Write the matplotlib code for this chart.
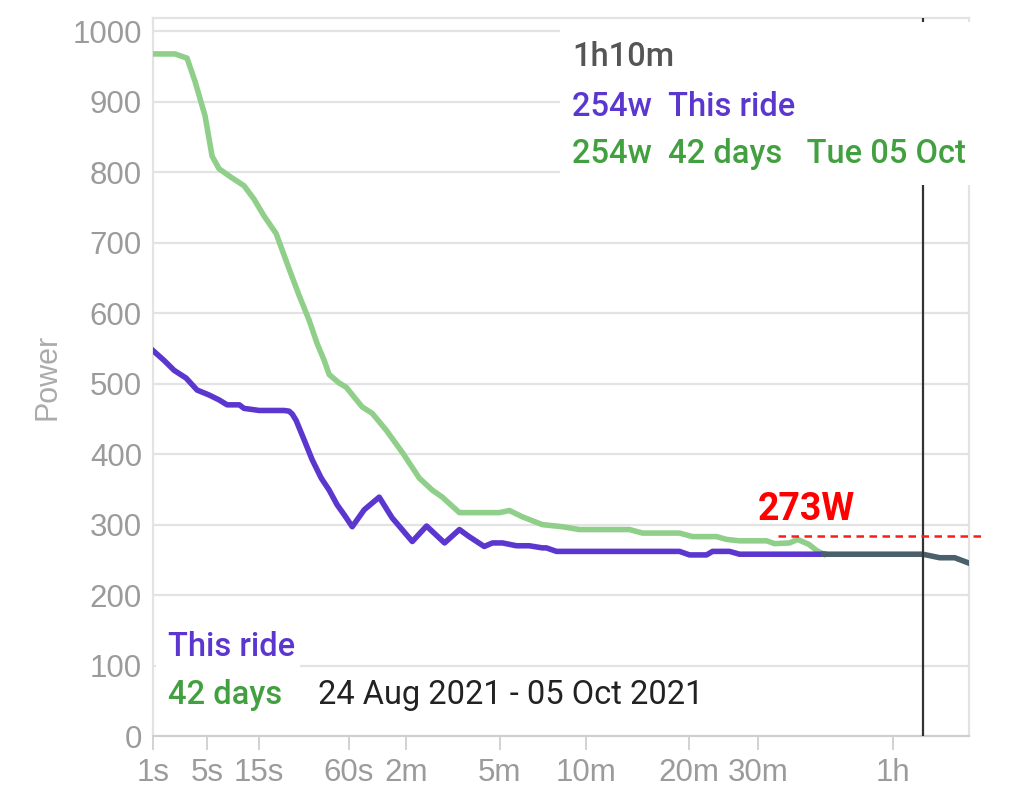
import numpy as np
import matplotlib
matplotlib.use("Agg")
import matplotlib.pyplot as plt
from matplotlib.patches import Rectangle

# ---- data (seconds, watts) ----
this_ride_t = [1, 1.47, 2.02, 2.87, 3.86, 5.21, 6.59, 7.88, 10.2, 11.2, 15.0, 23.2, 25.2, 26.5,
               28.2, 32.0, 36.1, 41.2, 46.1, 51.5, 56.6, 62.9, 73.2, 87.9, 102, 128, 149, 179,
               207, 227, 261, 281, 307, 346, 385, 428, 442, 479, 1131, 1204, 1336, 1385, 1531,
               1622, 2563]
this_ride_w = [547, 533, 519, 508, 491, 484, 477, 470, 470, 465, 462, 462, 461, 457,
               448, 420, 392, 366, 349, 328, 314, 297, 321, 339, 310, 276, 298, 274,
               293, 283, 269, 274, 274, 270, 270, 267, 267, 262, 262, 257, 257, 262, 262,
               258, 258]

days42_t = [1, 2.08, 2.95, 3.66, 4.73, 5.60, 6.59, 8.58, 11.2, 13.6, 16.4, 20.3, 25.2, 29.6,
            34.5, 38.8, 43.0, 46.1, 52.9, 58.1, 71.4, 80.8, 95.5, 115, 138, 158, 175, 207,
            299, 326, 364, 428, 501, 570, 815, 890, 1131, 1226, 1418, 1505, 1622, 1890,
            1975, 2142, 2235, 2371, 2472, 2563]
days42_w = [968, 968, 962, 929, 880, 823, 805, 793, 781, 762, 738, 713, 663, 625,
            590, 557, 533, 513, 501, 495, 467, 458, 434, 402, 366, 349, 339, 317,
            317, 320, 311, 300, 297, 293, 293, 288, 288, 283, 283, 279, 277, 277,
            273, 274, 279, 272, 263, 258]

both_t = [2563, 4130, 4459, 4765, 5043]
both_w = [258, 258, 253, 253, 246]

tick_secs = [1, 5, 15, 60, 120, 300, 600, 1200, 1800, 3600]
tick_labels = ["1s", "5s", "15s", "60s", "2m", "5m", "10m", "20m", "30m", "1h"]
y_ticks = list(range(0, 1001, 100))

cursor_t = 4140
cursor_label = "1h10m"
ftp_w = 284
ftp_label = "273W"
ftp_start = 2007

PURPLE = "#5b37cf"
GREEN_LINE = "#8fcf8a"
GREEN_TXT = "#43a040"
DARK = "#4a616b"
GRID = "#e3e3e3"
TICKC = "#9b9b9b"

W, H = 1024, 806
fig = plt.figure(figsize=(W / 100, H / 100), dpi=100)
ax = fig.add_axes([153 / W, 1 - 736 / H, (969 - 153) / W, (736 - 18) / H])


def fwd(t):
    return np.power(np.maximum(t, 1e-9), 0.25)


def inv(u):
    return np.power(u, 4)


ax.set_xscale("function", functions=(fwd, inv))
ax.set_xlim(1, 5070)
ax.set_ylim(0, 1019)

for y in y_ticks[1:]:
    ax.axhline(y, color=GRID, lw=1.6, zorder=1)

ax.plot(days42_t, days42_w, color=GREEN_LINE, lw=4.0, zorder=3, solid_joinstyle="round")
ax.plot(this_ride_t, this_ride_w, color=PURPLE, lw=4.0, zorder=3, solid_joinstyle="round")
ax.plot(both_t, both_w, color=DARK, lw=4.0, zorder=3, solid_joinstyle="round")

ax.axvline(cursor_t, color="#333333", lw=1.6, zorder=4)

ax.plot([ftp_start, 5400], [ftp_w, ftp_w], color="#ff1a1a", lw=1.8, ls=(0, (3, 2.2)),
        zorder=4, clip_on=False)
ax.text(2344, 322, ftp_label, color="#ff0000", fontsize=27, fontweight="bold",
        family="Roboto", ha="center", va="center", zorder=6)

for s in ["top", "right", "left"]:
    ax.spines[s].set_color(GRID)
    ax.spines[s].set_linewidth(1.6)
ax.spines["bottom"].set_color("#cfcfcf")
ax.spines["bottom"].set_linewidth(1.6)

ax.set_xticks(tick_secs)
ax.set_xticklabels(tick_labels)
ax.set_yticks(y_ticks)
ax.set_yticklabels([str(v) for v in y_ticks])
ax.tick_params(axis="x", length=10, width=1.3, color="#cfcfcf", pad=6,
               labelsize=22.5, labelcolor=TICKC)
ax.tick_params(axis="y", length=0, pad=8, labelsize=22.5, labelcolor=TICKC)
ax.minorticks_off()
for lab in ax.get_xticklabels() + ax.get_yticklabels():
    lab.set_family("Liberation Sans")
ax.set_ylabel("Power", fontsize=22, color="#ababab", family="Liberation Sans", labelpad=7)

# white info boxes
def box(x0, y0, x1, y1):
    ax.add_patch(Rectangle((x0 / W, 1 - y1 / H), (x1 - x0) / W, (y1 - y0) / H,
                           transform=fig.transFigure, facecolor="white", edgecolor="none",
                           zorder=5, clip_on=False))

box(560, 22, 971, 185)
box(156, 618, 300, 720)
box(156, 670, 715, 720)


def ftxt(x, y, s, color, weight="medium"):
    fig.text(x / W, 1 - y / H, s, color=color, fontsize=23.5, fontweight=weight,
             family="Roboto", ha="left", va="baseline", zorder=7)


ftxt(572, 66, cursor_label, "#555555")
ftxt(572, 116, "254w  This ride", PURPLE)
ftxt(572, 163, "254w  42 days   Tue 05 Oct", GREEN_TXT)
ftxt(168, 656, "This ride", PURPLE)
ftxt(168, 704, "42 days", GREEN_TXT)
ftxt(318, 704, "24 Aug 2021 - 05 Oct 2021", "#222222", weight="normal")

fig.savefig("out.png", dpi=100)
